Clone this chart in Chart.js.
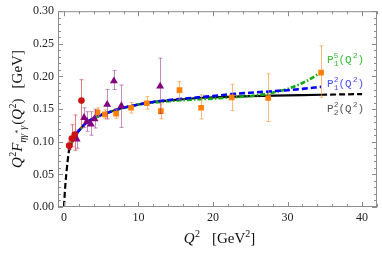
<!DOCTYPE html>
<html>
<head>
<meta charset="utf-8">
<script src="https://cdn.jsdelivr.net/npm/chart.js@4/dist/chart.umd.min.js"></script>
<style>
  html, body { margin: 0; padding: 0; background: #fff; }
  canvas { display: block; }
</style>
</head>
<body>
<canvas id="myChart" width="382" height="254"></canvas>
<script>
// ---- data ----
const xTicks = [0, 10, 20, 30, 40]
const yTicks = [0, 0.05, 0.10, 0.15, 0.20, 0.25, 0.30]

// Pade curves
const qCurve = [0, 0.1, 0.2, 0.35, 0.5, 0.7, 1, 1.5, 2, 3, 4, 5, 6, 7, 8, 10, 12, 15, 18, 20, 25, 30, 34.5, 40]
const p22 = [0, 0.020, 0.036, 0.055, 0.071, 0.088, 0.097, 0.109, 0.117, 0.129, 0.136, 0.141, 0.145, 0.149, 0.152, 0.157, 0.161, 0.164, 0.167, 0.168, 0.170, 0.171, 0.172, 0.173]
const qFit = [0.7, 1, 1.5, 2, 3, 4, 5, 6, 7, 8, 10, 12, 15, 18, 20, 22.5, 25, 27.5, 30, 32, 34.5]
const p12 = [0.088, 0.097, 0.109, 0.117, 0.129, 0.136, 0.141, 0.145, 0.149, 0.152, 0.157, 0.161, 0.165, 0.168, 0.170, 0.173, 0.175, 0.177, 0.179, 0.181, 0.184]
const p15 = [0.088, 0.097, 0.109, 0.117, 0.129, 0.136, 0.141, 0.145, 0.149, 0.152, 0.157, 0.160, 0.163, 0.165, 0.166, 0.168, 0.170, 0.174, 0.181, 0.190, 0.206]

// experimental points (value, lower, upper)
const redQ = [0.7, 1.05, 1.45, 2.35]
const redF = [0.094, 0.105, 0.111, 0.163]
const redLo = [0.088, 0.092, 0.087, 0.121]
const redHi = [0.100, 0.126, 0.141, 0.195]

const purpleQ = [1.7, 2.7, 3.1, 3.6, 4.1, 5.8, 6.7, 7.7, 12.9]
const purpleF = [0.104, 0.137, 0.131, 0.127, 0.135, 0.157, 0.193, 0.155, 0.185]
const purpleLo = [0.090, 0.122, 0.116, 0.110, 0.121, 0.135, 0.180, 0.122, 0.143]
const purpleHi = [0.118, 0.152, 0.146, 0.146, 0.150, 0.180, 0.209, 0.187, 0.228]

const orangeQ = [4.5, 5.5, 7.0, 9.0, 11.1, 13.0, 15.5, 18.4, 22.5, 27.4, 34.5]
const orangeF = [0.145, 0.142, 0.143, 0.152, 0.159, 0.147, 0.179, 0.152, 0.168, 0.167, 0.206]
const orangeLo = [0.138, 0.135, 0.136, 0.144, 0.150, 0.135, 0.165, 0.135, 0.148, 0.131, 0.168]
const orangeHi = [0.152, 0.149, 0.150, 0.160, 0.169, 0.158, 0.192, 0.172, 0.188, 0.204, 0.247]

const SERIF = '"Liberation Serif", "Times New Roman", serif'
const MONO = '"Liberation Mono", "DejaVu Sans Mono", monospace'

function pts(xs, ys) {
    return xs.map((x, i) => ({ x: x, y: ys[i] }))
}

// draws text pieces one after another; stay = don't advance (stacked sup/sub)
function richWidth(ctx, parts) {
    let w = 0
    for (const p of parts) {
        ctx.font = p.font
        if (!p.stay) w += ctx.measureText(p.t).width + (p.gap || 0)
    }
    return w
}
function drawRich(ctx, x, y, parts) {
    let cx = x
    for (const p of parts) {
        ctx.font = p.font
        ctx.fillText(p.t, cx, y + (p.dy || 0))
        if (!p.stay) cx += ctx.measureText(p.t).width + (p.gap || 0)
    }
}

const errorBars = {
    id: 'errorBars',
    beforeDatasetDraw(chart, args) {
        const ds = chart.data.datasets[args.index]
        if (!ds.errLo) return
        const { ctx, scales: { x, y } } = chart
        ctx.save()
        ctx.strokeStyle = ds.errColor
        ctx.lineWidth = 1
        ds.data.forEach((p, i) => {
            const px = Math.round(x.getPixelForValue(p.x)) + 0.5
            const lo = y.getPixelForValue(ds.errLo[i])
            const hi = y.getPixelForValue(ds.errHi[i])
            ctx.beginPath()
            ctx.moveTo(px, lo); ctx.lineTo(px, hi)
            ctx.moveTo(px - 2, lo); ctx.lineTo(px + 2, lo)
            ctx.moveTo(px - 2, hi); ctx.lineTo(px + 2, hi)
            ctx.stroke()
        })
        ctx.restore()
    },
}

const frame = {
    id: 'frame',
    afterDraw(chart) {
        const { ctx, chartArea: a, scales: { x, y } } = chart
        ctx.save()
        ctx.strokeStyle = '#8c8c8c'
        ctx.lineWidth = 1
        ctx.strokeRect(a.left + 0.5, a.top + 0.5, a.right - a.left - 1, a.bottom - a.top - 1)
        ctx.beginPath()
        for (let v = 0; v <= 42; v += 2) {
            const px = Math.round(x.getPixelForValue(v)) + 0.5
            const len = v % 10 === 0 ? 5 : 3
            ctx.moveTo(px, a.bottom); ctx.lineTo(px, a.bottom - len)
            ctx.moveTo(px, a.top); ctx.lineTo(px, a.top + len)
        }
        for (let k = 0; k <= 30; k++) {
            const py = Math.round(y.getPixelForValue(k / 100)) + 0.5
            const len = k % 5 === 0 ? 5 : 3
            ctx.moveTo(a.left, py); ctx.lineTo(a.left + len, py)
            ctx.moveTo(a.right, py); ctx.lineTo(a.right - len, py)
        }
        ctx.stroke()

        // axis titles
        ctx.fillStyle = '#111'
        ctx.textBaseline = 'alphabetic'
        const big = 'italic 15px ' + SERIF
        const rom = '15px ' + SERIF
        const sup = '10px ' + SERIF
        const sub = 'italic 10px ' + SERIF
        const xt = [
            { t: 'Q', font: big, gap: 0.5 },
            { t: '2', font: sup, dy: -6, gap: 12 },
            { t: '[GeV', font: rom },
            { t: '2', font: sup, dy: -6 },
            { t: ']', font: rom },
        ]
        const xw = richWidth(ctx, xt)
        drawRich(ctx, (a.left + a.right) / 2 + 2 - xw / 2, 243, xt)

        const yt = [
            { t: 'Q', font: big, gap: 0.5 },
            { t: '2', font: sup, dy: -6 },
            { t: 'F', font: big },
            { t: 'ηγ', font: sub, dy: 4 },
            { t: '*', font: '8px ' + SERIF, dy: -1 },
            { t: 'γ', font: sub, dy: 4, gap: 1 },
            { t: '(', font: rom },
            { t: 'Q', font: big, gap: 0.5 },
            { t: '2', font: sup, dy: -6 },
            { t: ')', font: rom, gap: 10 },
            { t: '[GeV]', font: rom },
        ]
        const yw = richWidth(ctx, yt)
        ctx.save()
        ctx.translate(22, (a.top + a.bottom) / 2)
        ctx.rotate(-Math.PI / 2)
        drawRich(ctx, -yw / 2, 0, yt)
        ctx.restore()

        // curve labels
        const labels = [
            { c: '#33bb33', y: 0.227, u: '5', d: '1' },
            { c: '#4d4dff', y: 0.190, u: '2', d: '1' },
            { c: '#555555', y: 0.151, u: '2', d: '2' },
        ]
        const lf = '11px ' + MONO
        const sf = '8px ' + MONO
        for (const l of labels) {
            ctx.fillStyle = l.c
            const lx = x.getPixelForValue(35.3)
            const ly = y.getPixelForValue(l.y) + 4
            drawRich(ctx, lx, ly, [
                { t: 'P', font: lf },
                { t: l.u, font: sf, dy: -5, stay: true },
                { t: l.d, font: sf, dy: 3 },
                { t: '(Q', font: lf, gap: 1 },
                { t: '2', font: sf, dy: -5 },
                { t: ')', font: lf },
            ])
        }
        ctx.restore()
    },
}

function render_chart() {
    const data = {
        datasets: [
            {
                data: pts(redQ, redF), errLo: redLo, errHi: redHi, errColor: 'rgba(210,40,40,0.6)',
                pointStyle: 'circle', pointRadius: 3.3, backgroundColor: '#cc1111', borderWidth: 0, order: 0,
            },
            {
                data: pts(purpleQ, purpleF), errLo: purpleLo, errHi: purpleHi, errColor: 'rgba(140,30,140,0.5)',
                pointStyle: 'triangle', pointRadius: 4.6, backgroundColor: '#800080', borderWidth: 0, order: 1,
            },
            {
                data: pts(orangeQ, orangeF), errLo: orangeLo, errHi: orangeHi, errColor: 'rgba(250,140,30,0.6)',
                pointStyle: 'rect', pointRadius: 4, backgroundColor: '#ff8000', borderWidth: 0, order: 2,
            },
            {
                data: pts(qFit, p12), showLine: true, pointRadius: 0, borderColor: '#0000ff',
                borderWidth: 2.6, borderDash: [6, 3], cubicInterpolationMode: 'monotone', order: 3,
            },
            {
                data: pts(qFit, p15), showLine: true, pointRadius: 0, borderColor: '#11aa11',
                borderWidth: 2.6, borderDash: [5, 2, 1.5, 2], cubicInterpolationMode: 'monotone', order: 4,
            },
            {
                data: pts(qCurve, p22), showLine: true, pointRadius: 0, borderColor: '#000',
                borderWidth: 2.2, cubicInterpolationMode: 'monotone', order: 5,
                segment: {
                    borderDash: (c) => (c.p0.parsed.x < 0.7 || c.p0.parsed.x >= 34.5) ? [6, 3] : undefined,
                },
            },
        ],
    }

    const config = {
        type: 'scatter',
        data: data,
        options: {
            responsive: false,
            animation: false,
            layout: { padding: { top: 10, right: 5, left: 0, bottom: 0 } },
            plugins: { legend: { display: false }, tooltip: { enabled: false } },
            scales: {
                x: {
                    type: 'linear', min: -0.8, max: 42,
                    grid: { display: false, drawTicks: false }, border: { display: false },
                    afterBuildTicks: (s) => { s.ticks = xTicks.map((v) => ({ value: v })) },
                    afterFit: (s) => { s.height = 47 },
                    ticks: { color: '#222', padding: 4, font: { family: SERIF, size: 12 } },
                },
                y: {
                    type: 'linear', min: 0, max: 0.30,
                    grid: { display: false, drawTicks: false }, border: { display: false },
                    afterBuildTicks: (s) => { s.ticks = yTicks.map((v) => ({ value: v })) },
                    afterFit: (s) => { s.width = 58 },
                    ticks: { color: '#222', padding: 4, font: { family: SERIF, size: 12 }, callback: (v) => v.toFixed(2) },
                },
            },
        },
        plugins: [errorBars, frame],
    }

    const myChart = new Chart(document.getElementById('myChart'), config)
}

document.addEventListener('DOMContentLoaded', render_chart)
</script>
</body>
</html>
